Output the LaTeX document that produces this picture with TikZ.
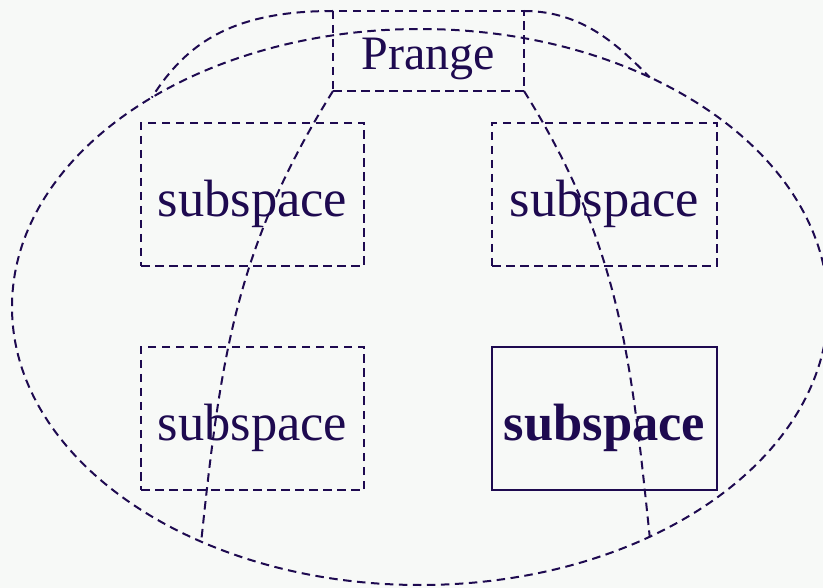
\documentclass[tikz,border=0pt]{standalone}
\usepackage{fontspec}
\setmainfont{Liberation Serif}
\usetikzlibrary{shapes.geometric}
\definecolor{ink}{RGB}{30,10,80}
\definecolor{bgc}{RGB}{247,249,247}
\begin{document}
\begin{tikzpicture}[x=1pt,y=-1pt,
  dsh/.style={dash pattern=on 8.5pt off 5.5pt},
  ln/.style={draw=ink, line width=2pt},
  box/.style={rectangle, ln, inner sep=0pt, outer sep=0pt, text=ink,
    font=\fontsize{52.5}{60}\selectfont, minimum height=143pt,
    text height=44pt, text depth=0pt},
  prbox/.style={rectangle, ln, dsh, inner sep=0pt, outer sep=0pt, text=ink,
    font=\fontsize{48}{55}\selectfont, minimum width=191pt, minimum height=80pt,
    text height=37pt, text depth=0pt},
  conn/.style={ln, dsh}
]
\fill[bgc] (0,0) rectangle (823,588);
\useasboundingbox (0,0) rectangle (823,588);
\node[ellipse, ln, dsh, inner sep=0pt, outer sep=0pt, minimum width=816pt, minimum height=556pt] (E) at (420,307) {};
\node[prbox] (P) at (428.5,51) {Prange};
\node[box, dsh, minimum width=223pt] (s1) at (252.5,194.5) {subspace};
\node[box, dsh, minimum width=225pt] (s2) at (604.5,194.5) {subspace};
\node[box, dsh, minimum width=223pt] (s3) at (252.5,418.5) {subspace};
\node[box, minimum width=225pt, font=\fontsize{52.5}{60}\selectfont\bfseries] (s4) at (604.5,418.5) {subspace};
\draw[conn] (P.north west) .. controls +(-100,0) and +(35,-55) .. (E.142.5);
\draw[conn] (P.north east) .. controls +(60,0) and +(-30,-30) .. (E.45);
\draw[conn] (P.south west) to[out=238, in=84] (E.227.5);
\draw[conn] (P.south east) to[out=302, in=96] (E.315);
\end{tikzpicture}
\end{document}
